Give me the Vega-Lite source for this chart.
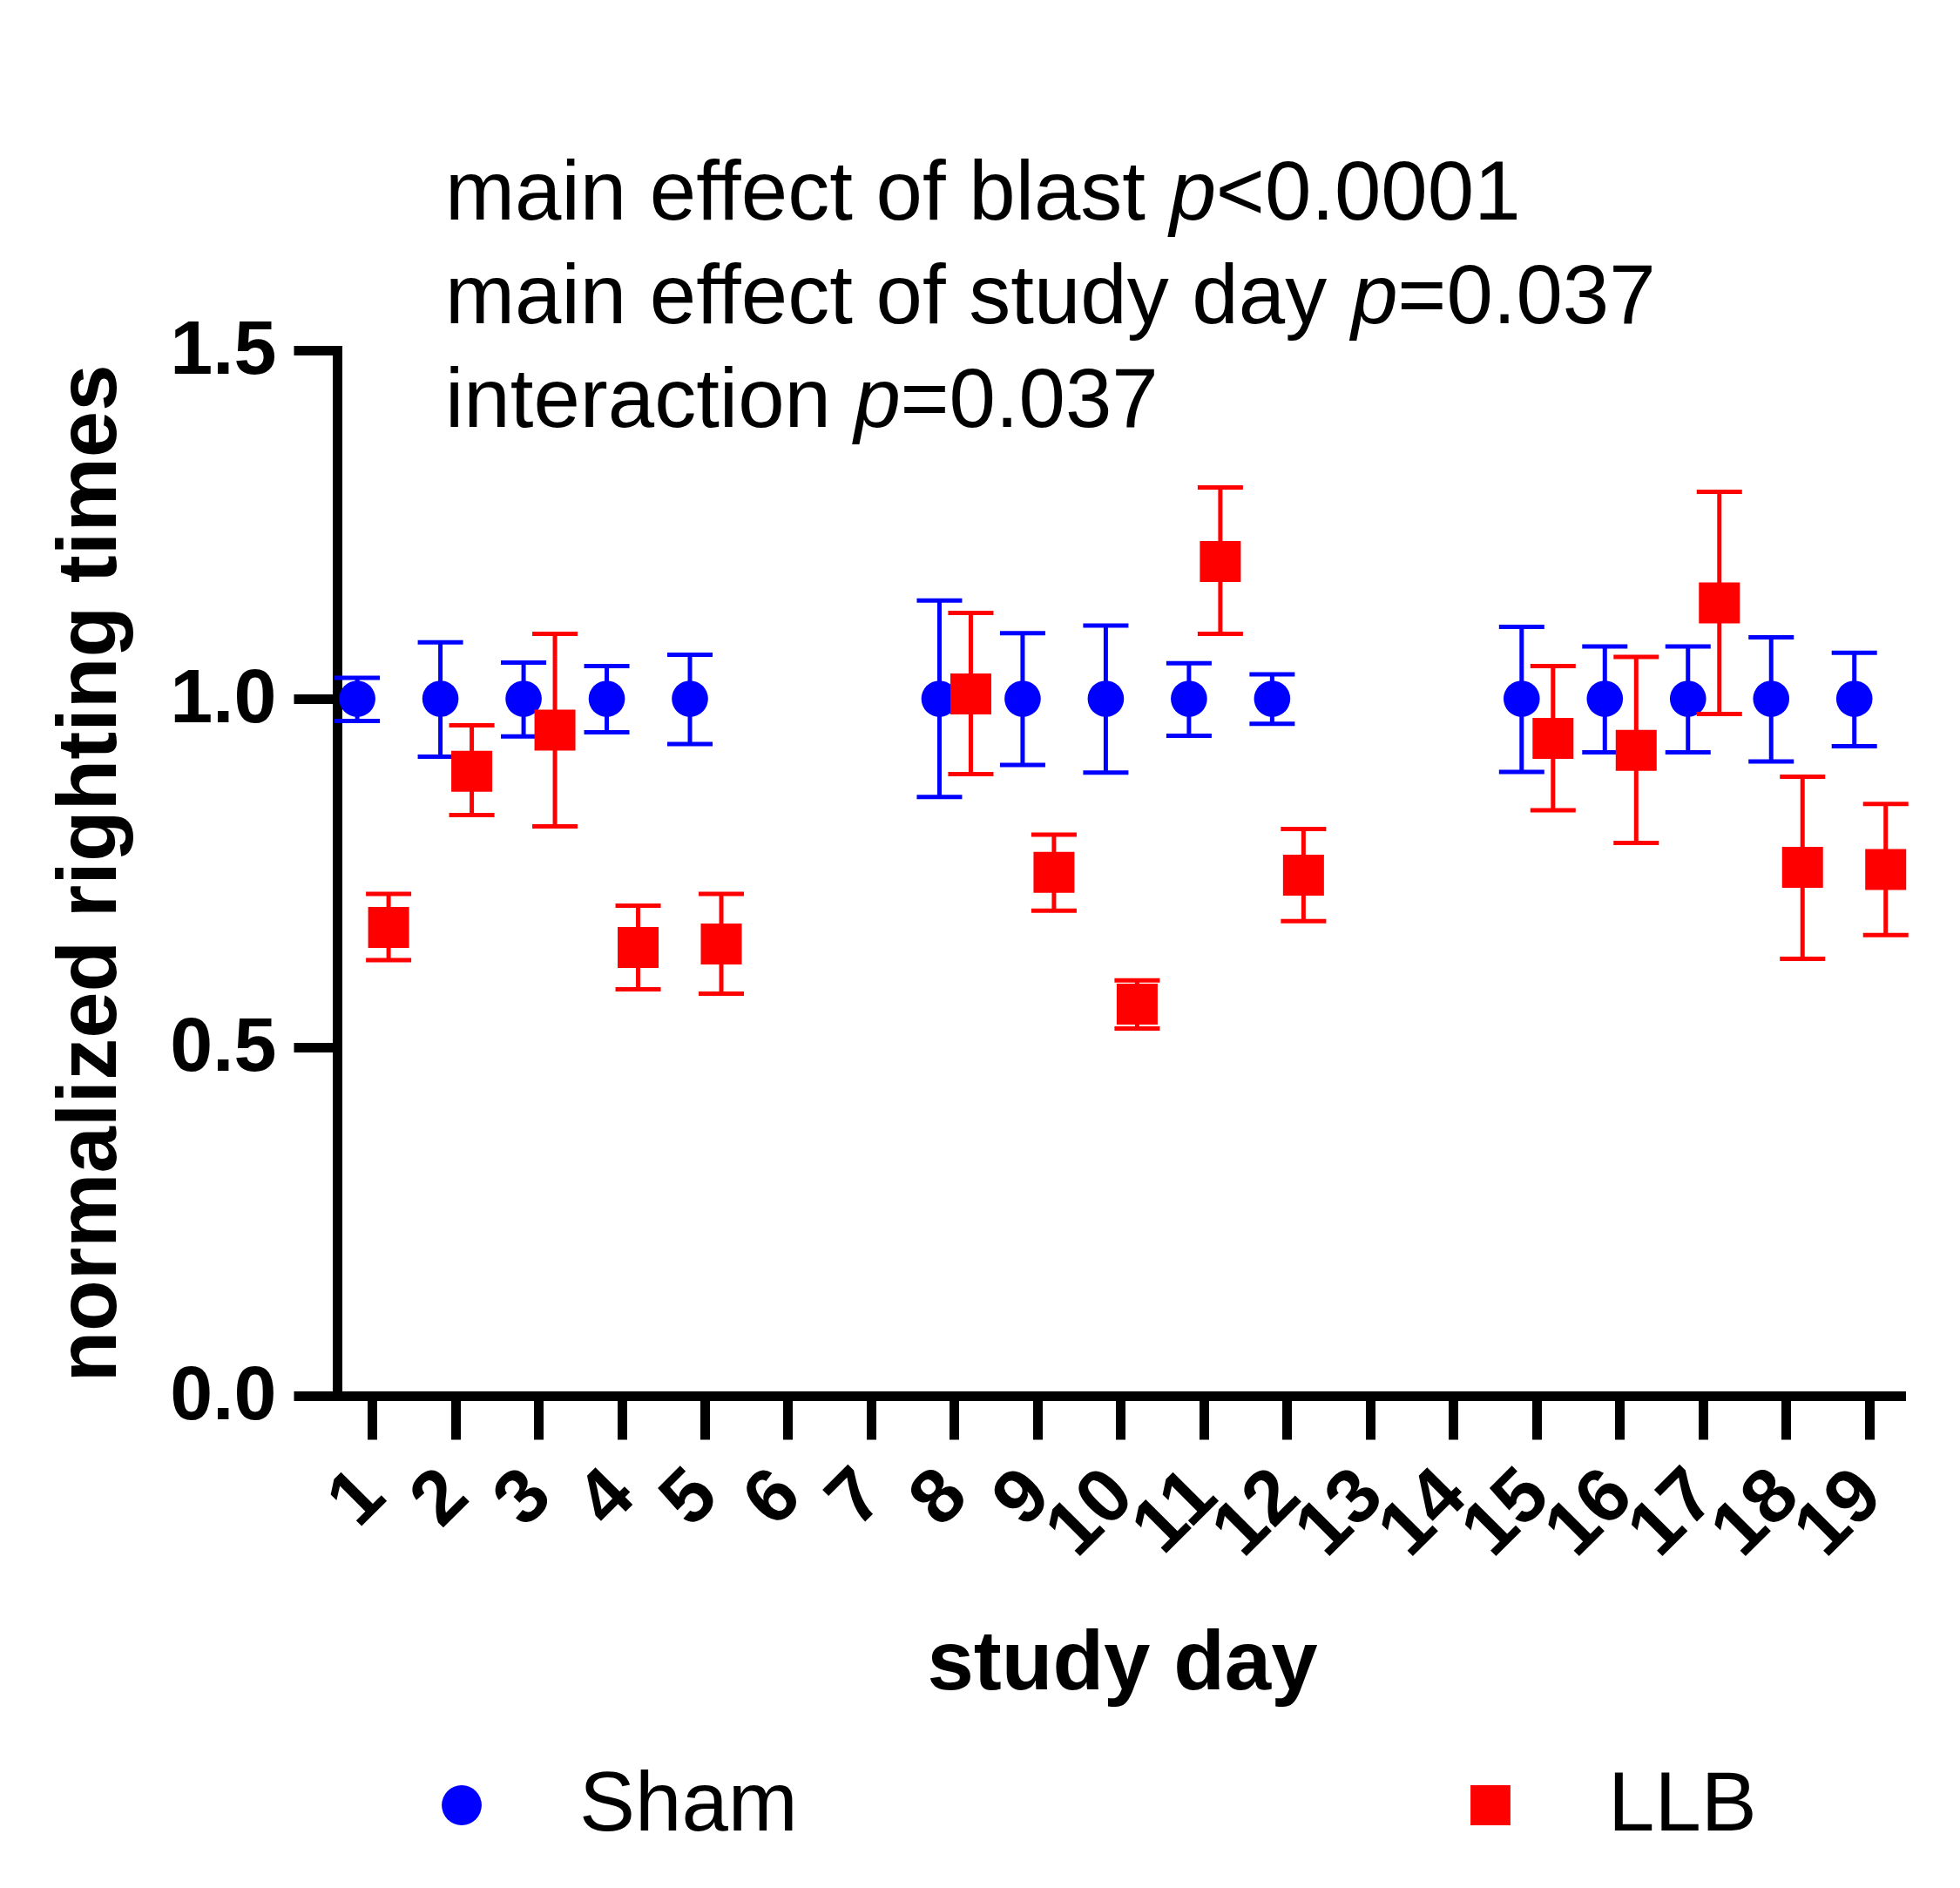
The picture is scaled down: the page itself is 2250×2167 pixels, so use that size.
{
  "$schema": "https://vega.github.io/schema/vega-lite/v6.json",
  "width": 1795,
  "height": 1200,
  "autosize": "none",
  "padding": {"left": 387, "top": 402, "right": 68, "bottom": 565},
  "background": "white",
  "config": {
    "view": {"stroke": null},
    "font": "Liberation Sans",
    "axis": {
      "grid": false,
      "domainColor": "black",
      "domainWidth": 11,
      "domainCap": "square",
      "tickColor": "black",
      "tickWidth": 11,
      "tickSize": 50,
      "labelColor": "black",
      "labelFont": "Liberation Sans",
      "labelFontSize": 88,
      "labelFontWeight": "bold",
      "titleColor": "black",
      "titleFont": "Liberation Sans",
      "titleFontSize": 96,
      "titleFontWeight": "bold"
    },
    "legend": {
      "labelFont": "Liberation Sans",
      "labelFontSize": 96,
      "labelColor": "black",
      "labelLimit": 600,
      "symbolSize": 2100,
      "symbolStrokeWidth": 0,
      "labelOffset": 87,
      "columnPadding": 747,
      "padding": 0
    }
  },
  "data": {
    "values": [
      {"day": 1, "group": "Sham", "mean": 1.0, "lo": 0.968, "hi": 1.030},
      {"day": 2, "group": "Sham", "mean": 1.0, "lo": 0.917, "hi": 1.081},
      {"day": 3, "group": "Sham", "mean": 1.0, "lo": 0.946, "hi": 1.052},
      {"day": 4, "group": "Sham", "mean": 1.0, "lo": 0.952, "hi": 1.047},
      {"day": 5, "group": "Sham", "mean": 1.0, "lo": 0.935, "hi": 1.063},
      {"day": 8, "group": "Sham", "mean": 1.0, "lo": 0.859, "hi": 1.141},
      {"day": 9, "group": "Sham", "mean": 1.0, "lo": 0.905, "hi": 1.094},
      {"day": 10, "group": "Sham", "mean": 1.0, "lo": 0.894, "hi": 1.105},
      {"day": 11, "group": "Sham", "mean": 1.0, "lo": 0.947, "hi": 1.051},
      {"day": 12, "group": "Sham", "mean": 1.0, "lo": 0.964, "hi": 1.035},
      {"day": 15, "group": "Sham", "mean": 1.0, "lo": 0.895, "hi": 1.103},
      {"day": 16, "group": "Sham", "mean": 1.0, "lo": 0.923, "hi": 1.075},
      {"day": 17, "group": "Sham", "mean": 1.0, "lo": 0.923, "hi": 1.075},
      {"day": 18, "group": "Sham", "mean": 1.0, "lo": 0.910, "hi": 1.088},
      {"day": 19, "group": "Sham", "mean": 1.0, "lo": 0.932, "hi": 1.066},
      {"day": 1, "group": "LLB", "mean": 0.672, "lo": 0.625, "hi": 0.720},
      {"day": 2, "group": "LLB", "mean": 0.896, "lo": 0.833, "hi": 0.962},
      {"day": 3, "group": "LLB", "mean": 0.955, "lo": 0.817, "hi": 1.093},
      {"day": 4, "group": "LLB", "mean": 0.643, "lo": 0.583, "hi": 0.703},
      {"day": 5, "group": "LLB", "mean": 0.648, "lo": 0.577, "hi": 0.720},
      {"day": 8, "group": "LLB", "mean": 1.007, "lo": 0.892, "hi": 1.123},
      {"day": 9, "group": "LLB", "mean": 0.751, "lo": 0.696, "hi": 0.805},
      {"day": 10, "group": "LLB", "mean": 0.562, "lo": 0.527, "hi": 0.596},
      {"day": 11, "group": "LLB", "mean": 1.197, "lo": 1.093, "hi": 1.303},
      {"day": 12, "group": "LLB", "mean": 0.747, "lo": 0.681, "hi": 0.813},
      {"day": 15, "group": "LLB", "mean": 0.943, "lo": 0.840, "hi": 1.047},
      {"day": 16, "group": "LLB", "mean": 0.926, "lo": 0.793, "hi": 1.060},
      {"day": 17, "group": "LLB", "mean": 1.1375, "lo": 0.978, "hi": 1.297},
      {"day": 18, "group": "LLB", "mean": 0.758, "lo": 0.627, "hi": 0.888},
      {"day": 19, "group": "LLB", "mean": 0.755, "lo": 0.661, "hi": 0.849}
    ]
  },
  "layer": [
    {
      "transform": [{"filter": "datum.group === 'Sham'"}],
      "mark": {"type": "rule", "xOffset": -17, "strokeWidth": 5, "color": "#0000FF"},
      "encoding": {
        "x": {
          "field": "day", "type": "quantitative",
          "scale": {"domain": [0.58, 19.38], "nice": false, "zero": false},
          "axis": {
            "title": "study day",
            "values": [1,2,3,4,5,6,7,8,9,10,11,12,13,14,15,16,17,18,19],
            "format": "d",
            "labelAngle": -45,
            "labelAlign": "right",
            "labelBaseline": "middle",
            "labelPadding": 50,
            "labelOverlap": false,
            "labelFlush": false,
            "titleX": 901,
            "titleY": 336,
            "titleBaseline": "alphabetic",
            "titleAlign": "center"
          }
        },
        "y": {
          "field": "lo", "type": "quantitative",
          "scale": {"domain": [0, 1.5], "nice": false, "zero": true},
          "axis": {
            "title": "normalized righting times",
            "values": [0, 0.5, 1.0, 1.5],
            "format": ".1f",
            "labelPadding": 20,
            "labelFlush": false,
            "titleX": -255,
            "titleY": 600,
            "titleAngle": -90,
            "titleAlign": "center",
            "titleBaseline": "alphabetic"
          }
        },
        "y2": {"field": "hi"}
      }
    },
    {
      "transform": [{"filter": "datum.group === 'Sham'"}],
      "mark": {"type": "tick", "orient": "horizontal", "xOffset": -17, "size": 52, "thickness": 5, "color": "#0000FF", "opacity": 1},
      "encoding": {
        "x": {"field": "day", "type": "quantitative"},
        "y": {"field": "hi", "type": "quantitative"}
      }
    },
    {
      "transform": [{"filter": "datum.group === 'Sham'"}],
      "mark": {"type": "tick", "orient": "horizontal", "xOffset": -17, "size": 52, "thickness": 5, "color": "#0000FF", "opacity": 1},
      "encoding": {
        "x": {"field": "day", "type": "quantitative"},
        "y": {"field": "lo", "type": "quantitative"}
      }
    },
    {
      "transform": [{"filter": "datum.group === 'Sham'"}],
      "mark": {"type": "point", "filled": true, "opacity": 1, "size": 1735, "xOffset": -17},
      "encoding": {
        "x": {"field": "day", "type": "quantitative"},
        "y": {"field": "mean", "type": "quantitative"},
        "color": {
          "field": "group", "type": "nominal",
          "scale": {"domain": ["Sham", "LLB"], "range": ["#0000FF", "#FF0000"]},
          "legend": {"orient": "none", "legendX": 95, "legendY": 1622, "direction": "horizontal", "title": null}
        },
        "shape": {
          "field": "group", "type": "nominal",
          "scale": {"domain": ["Sham", "LLB"], "range": ["circle", "square"]},
          "legend": {"orient": "none", "legendX": 95, "legendY": 1622, "direction": "horizontal", "title": null}
        }
      }
    },
    {
      "transform": [{"filter": "datum.group === 'LLB'"}],
      "mark": {"type": "rule", "xOffset": 19, "strokeWidth": 5, "color": "#FF0000"},
      "encoding": {
        "x": {"field": "day", "type": "quantitative"},
        "y": {"field": "lo", "type": "quantitative"},
        "y2": {"field": "hi"}
      }
    },
    {
      "transform": [{"filter": "datum.group === 'LLB'"}],
      "mark": {"type": "tick", "orient": "horizontal", "xOffset": 19, "size": 52, "thickness": 5, "color": "#FF0000", "opacity": 1},
      "encoding": {
        "x": {"field": "day", "type": "quantitative"},
        "y": {"field": "hi", "type": "quantitative"}
      }
    },
    {
      "transform": [{"filter": "datum.group === 'LLB'"}],
      "mark": {"type": "tick", "orient": "horizontal", "xOffset": 19, "size": 52, "thickness": 5, "color": "#FF0000", "opacity": 1},
      "encoding": {
        "x": {"field": "day", "type": "quantitative"},
        "y": {"field": "lo", "type": "quantitative"}
      }
    },
    {
      "transform": [{"filter": "datum.group === 'LLB'"}],
      "mark": {"type": "point", "filled": true, "opacity": 1, "size": 2209, "xOffset": 19},
      "encoding": {
        "x": {"field": "day", "type": "quantitative"},
        "y": {"field": "mean", "type": "quantitative"},
        "color": {
          "field": "group", "type": "nominal",
          "scale": {"domain": ["Sham", "LLB"], "range": ["#0000FF", "#FF0000"]},
          "legend": {"orient": "none", "legendX": 95, "legendY": 1622, "direction": "horizontal", "title": null}
        },
        "shape": {
          "field": "group", "type": "nominal",
          "scale": {"domain": ["Sham", "LLB"], "range": ["circle", "square"]},
          "legend": {"orient": "none", "legendX": 95, "legendY": 1622, "direction": "horizontal", "title": null}
        }
      }
    },
    {
      "data": {"values": [{}]},
      "mark": {"type": "text", "text": "main effect of blast ", "align": "left", "baseline": "alphabetic", "fontSize": 96, "font": "Liberation Sans", "color": "black"},
      "encoding": {"x": {"datum": 1.879, "type": "quantitative"}, "y": {"datum": 1.6875, "type": "quantitative"}}
    },
    {
      "data": {"values": [{}]},
      "mark": {"type": "text", "text": "p", "align": "left", "baseline": "alphabetic", "fontSize": 96, "fontStyle": "italic", "font": "Liberation Sans", "color": "black"},
      "encoding": {"x": {"datum": 10.591, "type": "quantitative"}, "y": {"datum": 1.6875, "type": "quantitative"}}
    },
    {
      "data": {"values": [{}]},
      "mark": {"type": "text", "text": "<0.0001", "align": "left", "baseline": "alphabetic", "fontSize": 96, "font": "Liberation Sans", "color": "black"},
      "encoding": {"x": {"datum": 11.146, "type": "quantitative"}, "y": {"datum": 1.6875, "type": "quantitative"}}
    },
    {
      "data": {"values": [{}]},
      "mark": {"type": "text", "text": "main effect of study day ", "align": "left", "baseline": "alphabetic", "fontSize": 96, "font": "Liberation Sans", "color": "black"},
      "encoding": {"x": {"datum": 1.879, "type": "quantitative"}, "y": {"datum": 1.5388, "type": "quantitative"}}
    },
    {
      "data": {"values": [{}]},
      "mark": {"type": "text", "text": "p", "align": "left", "baseline": "alphabetic", "fontSize": 96, "fontStyle": "italic", "font": "Liberation Sans", "color": "black"},
      "encoding": {"x": {"datum": 12.775, "type": "quantitative"}, "y": {"datum": 1.5388, "type": "quantitative"}}
    },
    {
      "data": {"values": [{}]},
      "mark": {"type": "text", "text": "=0.037", "align": "left", "baseline": "alphabetic", "fontSize": 96, "font": "Liberation Sans", "color": "black"},
      "encoding": {"x": {"datum": 13.33, "type": "quantitative"}, "y": {"datum": 1.5388, "type": "quantitative"}}
    },
    {
      "data": {"values": [{}]},
      "mark": {"type": "text", "text": "interaction ", "align": "left", "baseline": "alphabetic", "fontSize": 96, "font": "Liberation Sans", "color": "black"},
      "encoding": {"x": {"datum": 1.879, "type": "quantitative"}, "y": {"datum": 1.39, "type": "quantitative"}}
    },
    {
      "data": {"values": [{}]},
      "mark": {"type": "text", "text": "p", "align": "left", "baseline": "alphabetic", "fontSize": 96, "fontStyle": "italic", "font": "Liberation Sans", "color": "black"},
      "encoding": {"x": {"datum": 6.795, "type": "quantitative"}, "y": {"datum": 1.39, "type": "quantitative"}}
    },
    {
      "data": {"values": [{}]},
      "mark": {"type": "text", "text": "=0.037", "align": "left", "baseline": "alphabetic", "fontSize": 96, "font": "Liberation Sans", "color": "black"},
      "encoding": {"x": {"datum": 7.35, "type": "quantitative"}, "y": {"datum": 1.39, "type": "quantitative"}}
    }
  ]
}
